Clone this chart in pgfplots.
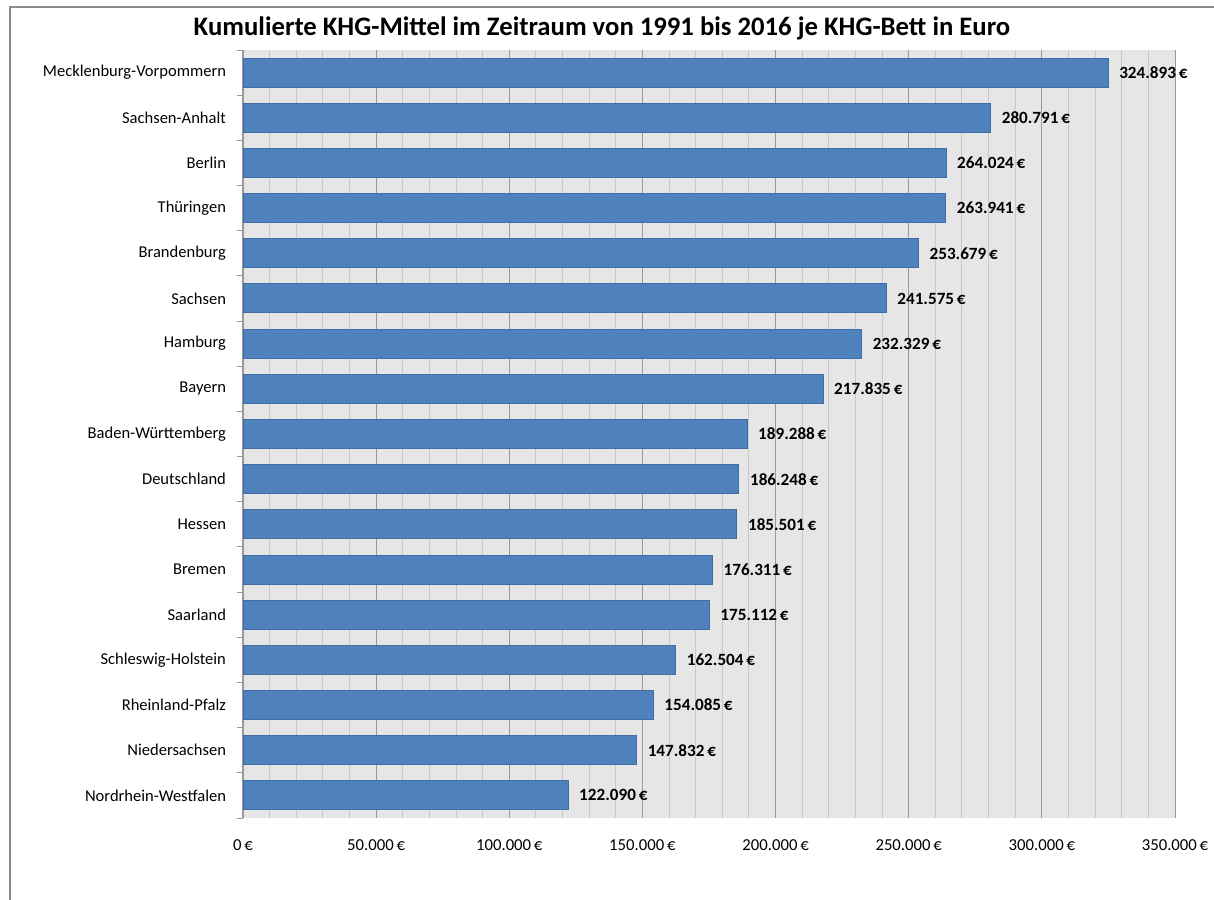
\documentclass[border=0pt]{standalone}
\usepackage{pgfplots}
\pgfplotsset{compat=1.18}
\usepackage{fontspec}
\setmainfont{Carlito}

\definecolor{barblue}{HTML}{4F81BD}
\definecolor{baredge}{HTML}{3F6EA6}
\definecolor{plotbg}{HTML}{E6E6E6}
\definecolor{gridminor}{HTML}{C8C8C8}
\definecolor{gridmajor}{HTML}{9A9A9A}
\definecolor{framegray}{HTML}{8C8C8C}

\begin{document}
\begin{tikzpicture}
\useasboundingbox (0,0) rectangle (607bp,450bp);
\draw[framegray, line width=1bp] (5bp,0) -- (5bp,446.5bp) -- (607bp,446.5bp);
\node[font=\bfseries\fontsize{13.4}{15}\selectfont] at (301bp,436bp)
  {Kumulierte KHG-Mittel im Zeitraum von 1991 bis 2016 je KHG-Bett in Euro};
\begin{axis}[
    at={(121.5bp,41bp)}, anchor=south west,
    scale only axis,
    width=466bp, height=384bp,
    xbar, bar width=14.5bp,
    xmin=0, xmax=350000,
    ymin=-0.5, ymax=16.5,
    y dir=reverse,
    axis background/.style={fill=plotbg},
    scaled x ticks=false,
    xtick={0,50000,100000,150000,200000,250000,300000,350000},
    xticklabels={0\,€,50.000\,€,100.000\,€,150.000\,€,200.000\,€,250.000\,€,300.000\,€,350.000\,€},
    minor x tick num=4,
    xmajorgrids, xminorgrids,
    major x grid style={draw=gridmajor, line width=0.5bp},
    minor x grid style={draw=gridminor, line width=0.5bp},
    x tick style={draw=none},
    xticklabel style={font=\fontsize{8.4}{10}\selectfont, yshift=-7.5bp},
    ytick={0,...,16},
    yticklabels={Mecklenburg-Vorpommern, Sachsen-Anhalt, Berlin, Thüringen, Brandenburg, Sachsen, Hamburg, Bayern, Baden-Württemberg, Deutschland, Hessen, Bremen, Saarland, Schleswig-Holstein, Rheinland-Pfalz, Niedersachsen, Nordrhein-Westfalen},
    minor ytick={-0.5,0.5,...,16.5},
    yticklabel style={font=\fontsize{8.3}{10}\selectfont, xshift=-5bp},
    y tick style={draw=gridmajor, line width=0.5bp},
    major tick length=0pt,
    minor tick length=3bp,
    tick align=outside,
    ytick pos=left,
    axis x line*=bottom,
    axis y line*=left,
    x axis line style={draw=none},
    y axis line style={draw=gridmajor, line width=0.75bp},
    point meta=explicit symbolic,
    nodes near coords={\pgfplotspointmeta\,€},
    every node near coord/.append style={anchor=west, font=\bfseries\fontsize{8.6}{10}\selectfont, black, xshift=2bp},
]
\addplot[fill=barblue, draw=baredge, line width=0.5bp] table[x=val, y=idx, meta=lbl] {
idx val lbl
0 324893 324.893
1 280791 280.791
2 264024 264.024
3 263941 263.941
4 253679 253.679
5 241575 241.575
6 232329 232.329
7 217835 217.835
8 189288 189.288
9 186248 186.248
10 185501 185.501
11 176311 176.311
12 175112 175.112
13 162504 162.504
14 154085 154.085
15 147832 147.832
16 122090 122.090
};
\end{axis}
\end{tikzpicture}
\end{document}
